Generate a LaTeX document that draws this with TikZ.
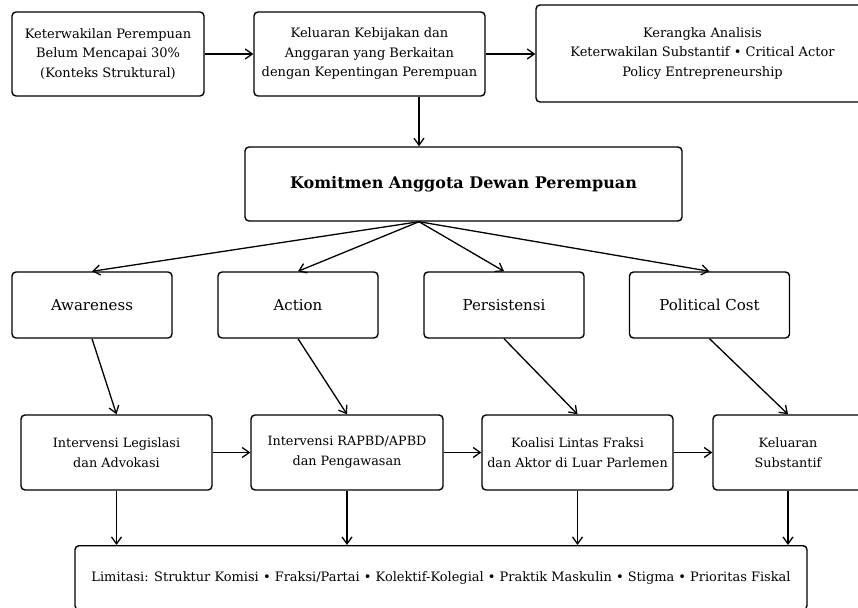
\documentclass[tikz,border=0pt]{standalone}
\usepackage{fontspec}
\usepackage{graphicx}
\setmainfont{DejaVu Serif}
\usetikzlibrary{arrows.meta}
\begin{document}
\begin{tikzpicture}[x=1pt,y=-1pt,
  box/.style={draw, line width=1.4pt, rounded corners=4pt, align=center, inner sep=0pt,
              font=\fontsize{13}{19.5}\selectfont},
  cbox/.style={box, minimum width=160pt, minimum height=66pt, font=\fontsize{15}{18}\selectfont},
  ibox/.style={box, minimum width=191pt, minimum height=75pt, font=\fontsize{12.8}{20}\selectfont},
  arr/.style={-{Straight Barb[length=7pt,width=10pt,line width=1.3pt]}, line width=1.3pt}]
\useasboundingbox (0,0) rectangle (858,607);
\clip (0,0) rectangle (858,607);

\node[box, minimum width=192pt, minimum height=84pt] (ctx) at (108,54)
  {Keterwakilan Perempuan\\Belum Mencapai 30\%\\(Konteks Struktural)};
\node[box, minimum width=231pt, minimum height=84pt] (out) at (369.5,54)
  {Keluaran Kebijakan dan\\Anggaran yang Berkaitan\\dengan Kepentingan Perempuan};
\node[box, minimum width=333pt, minimum height=97pt] (frm) at (702.5,53.5)
  {Kerangka Analisis\\Keterwakilan Substantif • Critical Actor\\Policy Entrepreneurship};
\node[box, minimum width=437pt, minimum height=74pt, font=\fontsize{16}{18}\selectfont\bfseries] (kom) at (463.5,184)
  {Komitmen Anggota Dewan Perempuan};

\node[cbox] (aw) at (92,305) {Awareness};
\node[cbox] (act) at (298,305) {Action};
\node[cbox] (per) at (504,305) {Persistensi};
\node[cbox] (pc) at (709.5,305) {Political Cost};

\node[ibox] (leg) at (116.5,452.5) {Intervensi Legislasi\\dan Advokasi};
\node[ibox, minimum width=192pt] (rap) at (347,452.5) {Intervensi RAPBD/APBD\\dan Pengawasan};
\node[ibox] (koa) at (577.5,452.5) {Koalisi Lintas Fraksi\\dan Aktor di Luar Parlemen};
\node[ibox, minimum width=150pt] (kel) at (788,452.5) {Keluaran\\Substantif};

\node[box, minimum width=732pt, minimum height=64pt] (lim) at (441,577.7)
  {\resizebox{699pt}{\height}{Limitasi: Struktur Komisi • Fraksi/Partai • Kolektif-Kolegial • Praktik Maskulin • Stigma • Prioritas Fiskal}};

\coordinate (ax) at (419,0);

\draw[arr] (ctx) -- (out);
\draw[arr] (out) -- (frm.west |- out);
\draw[arr] (out.south -| ax) -- (kom.north -| ax);

\draw[arr] (kom.south -| ax) -- (aw.north);
\draw[arr] (kom.south -| ax) -- (act.north);
\draw[arr] (kom.south -| ax) -- (per.north);
\draw[arr] (kom.south -| ax) -- (pc.north);

\draw[arr] (aw.south) -- (leg.north);
\draw[arr] (act.south) -- (rap.north);
\draw[arr] (per.south) -- (koa.north);
\draw[arr] (pc.south) -- (kel.north);

\draw[arr] (leg) -- (rap);
\draw[arr] (rap) -- (koa);
\draw[arr] (koa) -- (kel);

\draw[arr] (leg.south) -- (leg.south |- lim.north);
\draw[arr] (rap.south) -- (rap.south |- lim.north);
\draw[arr] (koa.south) -- (koa.south |- lim.north);
\draw[arr] (kel.south) -- (kel.south |- lim.north);
\end{tikzpicture}
\end{document}
